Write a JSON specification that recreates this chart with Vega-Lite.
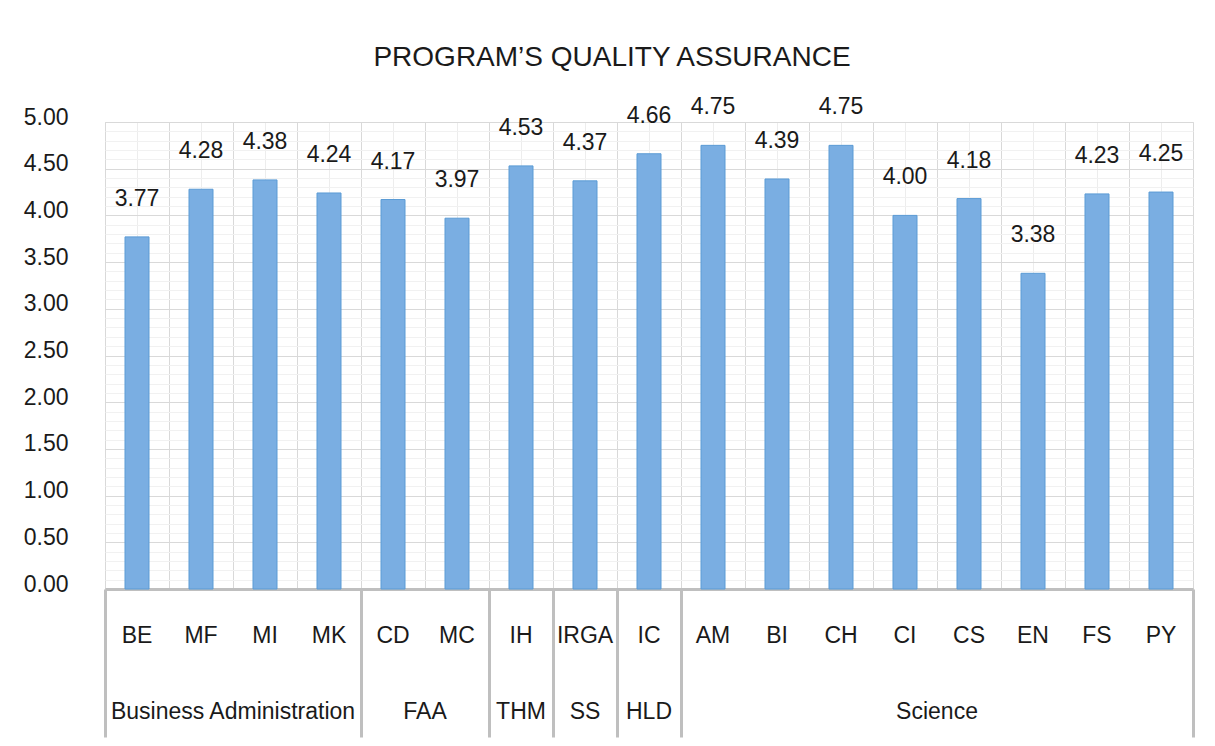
{
  "$schema": "https://vega.github.io/schema/vega-lite/v6.json",
  "width": 1088,
  "height": 467,
  "autosize": {"type": "none"},
  "padding": {"left": 105, "top": 122, "right": 22, "bottom": 157},
  "background": "white",
  "title": {
    "text": "PROGRAM’S QUALITY ASSURANCE",
    "frame": "group",
    "anchor": "middle",
    "dx": -37,
    "offset": 2,
    "baseline": "alphabetic",
    "fontSize": 28,
    "font": "Liberation Sans",
    "fontWeight": "normal",
    "color": "#1a1a1a",
    "limit": 0
  },
  "config": {
    "view": {"stroke": "#d9d9d9", "strokeWidth": 1},
    "axis": {"labelFont": "Liberation Sans", "labelFontSize": 23, "labelColor": "#1a1a1a"}
  },
  "data": {
    "values": [
      {"program": "BE", "group": "Business Administration", "score": 3.77},
      {"program": "MF", "group": "Business Administration", "score": 4.28},
      {"program": "MI", "group": "Business Administration", "score": 4.38},
      {"program": "MK", "group": "Business Administration", "score": 4.24},
      {"program": "CD", "group": "FAA", "score": 4.17},
      {"program": "MC", "group": "FAA", "score": 3.97},
      {"program": "IH", "group": "THM", "score": 4.53},
      {"program": "IRGA", "group": "SS", "score": 4.37},
      {"program": "IC", "group": "HLD", "score": 4.66},
      {"program": "AM", "group": "Science", "score": 4.75},
      {"program": "BI", "group": "Science", "score": 4.39},
      {"program": "CH", "group": "Science", "score": 4.75},
      {"program": "CI", "group": "Science", "score": 4.00},
      {"program": "CS", "group": "Science", "score": 4.18},
      {"program": "EN", "group": "Science", "score": 3.38},
      {"program": "FS", "group": "Science", "score": 4.23},
      {"program": "PY", "group": "Science", "score": 4.25}
    ]
  },
  "encoding": {
    "y": {
      "field": "score", "type": "quantitative",
      "scale": {"domain": [0, 5], "nice": false, "zero": true},
      "axis": {
        "title": null,
        "values": [0,0.1,0.2,0.3,0.4,0.5,0.6,0.7,0.8,0.9,1,1.1,1.2,1.3,1.4,1.5,1.6,1.7,1.8,1.9,2,2.1,2.2,2.3,2.4,2.5,2.6,2.7,2.8,2.9,3,3.1,3.2,3.3,3.4,3.5,3.6,3.7,3.8,3.9,4,4.1,4.2,4.3,4.4,4.5,4.6,4.7,4.8,4.9,5],
        "labelExpr": "round(datum.value*10)%5===0 ? format(datum.value,'.2f') : ''",
        "labelOverlap": false,
        "labelFlush": false,
        "gridColor": {"condition": {"test": "round(datum.value*10)%5===0", "value": "#d9d9d9"}, "value": "#f1f1f1"},
        "gridWidth": 1,
        "ticks": false, "domain": false,
        "labelPadding": 37, "labelOffset": -5, "labelBaseline": "middle"
      }
    }
  },
  "layer": [
    {
      "mark": {"type": "bar", "fill": "#7aaee2", "stroke": "#5b9bd5", "strokeWidth": 1, "width": {"band": 0.375}},
      "encoding": {
        "x": {
          "field": "program", "type": "nominal", "sort": null,
          "scale": {"paddingInner": 0, "paddingOuter": 0},
          "axis": {
            "orient": "bottom", "title": null, "labelAngle": 0,
            "labelBaseline": "middle", "labelPadding": 46, "labelLimit": 0,
            "ticks": false, "domain": true, "domainColor": "#bfbfbf", "domainWidth": 3,
            "grid": true, "gridColor": "#ededed", "gridWidth": 1
          }
        }
      }
    },
    {
      "mark": {"type": "text", "dy": -38, "baseline": "middle", "align": "center", "fontSize": 23, "font": "Liberation Sans", "color": "#1a1a1a"},
      "encoding": {
        "x": {
          "field": "program", "type": "nominal", "sort": null,
          "axis": {
            "orient": "bottom", "title": null, "labelAngle": 0,
            "labelExpr": "datum.value==='MF' ? 'Business Administration' : datum.value==='CD' ? 'FAA' : datum.value==='IH' ? 'THM' : datum.value==='IRGA' ? 'SS' : datum.value==='IC' ? 'HLD' : datum.value==='CI' ? 'Science' : ''",
            "labelOffset": {"condition": {"test": "datum.value==='MF' || datum.value==='CD' || datum.value==='CI'", "value": 32}, "value": 0},
            "labelBaseline": "middle", "labelPadding": 122, "labelLimit": 0,
            "ticks": false, "domain": false, "grid": false
          }
        },
        "text": {"field": "score", "type": "quantitative", "format": ".2f"}
      }
    },
    {
      "mark": {"type": "text", "text": ""},
      "encoding": {
        "x": {
          "field": "program", "type": "nominal", "sort": null,
          "axis": {
            "orient": "bottom", "title": null, "labels": false, "domain": false,
            "ticks": true, "bandPosition": 0, "tickSize": 148, "tickWidth": 3,
            "tickColor": {"condition": {"test": "indexof(['BE','CD','IH','IRGA','IC','AM'], datum.value) >= 0", "value": "#bfbfbf"}, "value": "transparent"},
            "grid": true, "gridColor": "#d9d9d9", "gridWidth": 1
          }
        }
      }
    },
    {
      "mark": {"type": "text", "text": ""},
      "encoding": {
        "x": {
          "field": "program", "type": "nominal", "sort": null,
          "axis": {
            "orient": "bottom", "title": null, "labels": false, "domain": false,
            "ticks": true, "bandPosition": 1, "tickSize": 148, "tickWidth": 3,
            "tickColor": {"condition": {"test": "datum.value==='PY'", "value": "#bfbfbf"}, "value": "transparent"},
            "grid": false
          }
        }
      }
    }
  ],
  "resolve": {"axis": {"x": "independent"}}
}
